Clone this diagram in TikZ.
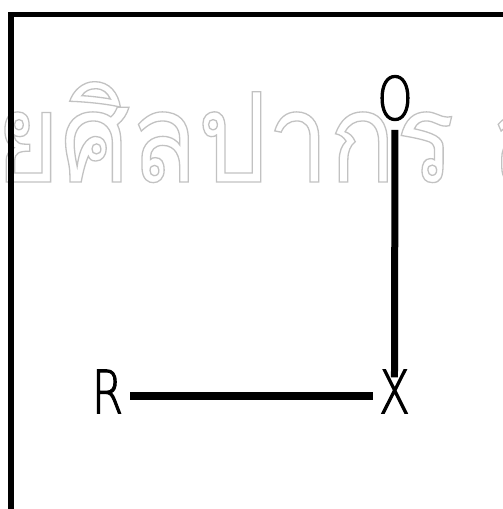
\documentclass[tikz,border=0pt]{standalone}
\usepackage{fontspec}
\usepackage{tikz}
\newfontfamily\thaimark[Script=Thai,FakeStretch=0.88]{Loma}
\newfontfamily\lettfont[FakeStretch=0.75]{DejaVu Sans ExtraLight}
% hollow letters for the watermark, heavier strokes for the labels
\newcommand{\hollow}[1]{\special{pdf:literal direct 1 Tr 1.3 w 0.76 G}#1\special{pdf:literal direct 0 Tr}}
\newcommand{\heavy}[1]{\special{pdf:literal direct 2 Tr 1 w 0 G}#1\special{pdf:literal direct 0 Tr}}

\begin{document}
\begin{tikzpicture}[x=1pt,y=-1pt]
\useasboundingbox (0,0) rectangle (503,509);
\tikzset{wmark/.style={inner sep=0pt,font=\thaimark\fontsize{125}{125}\selectfont},
  lett/.style={inner sep=0pt,font=\lettfont\fontsize{60}{60}\selectfont}}
% watermark
\node[wmark,anchor=base east] (markA) at (60,182) {\hollow{มหาวิทยาลัย}};
\node[wmark,anchor=base west] (markB) at (markA.base east) {\hollow{ศิลปากร สงวนลิขสิทธิ์}};
% frame
\draw[line width=5.5pt] (11,509)--(11,14.5)--(503,14.5);
% letters
\node[lett] (O) at (395,98) {\heavy{O}};
\node[lett] (R) at (107.5,391.5) {\heavy{R}};
\node[lett] (X) at (394.5,391.5) {\heavy{X}};
\draw[line width=7pt,shorten <=9pt,shorten >=-8pt] (O.south)--(X.north);
\draw[line width=8pt,shorten <=7pt,shorten >=6pt] ([yshift=-4.5pt]R.east)--([yshift=-4.5pt]X.west);
\end{tikzpicture}
\end{document}
